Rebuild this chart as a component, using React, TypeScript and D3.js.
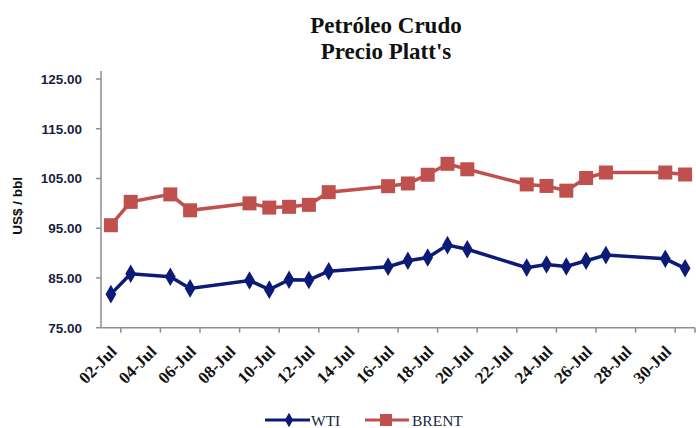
import React from "react";
import * as d3 from "d3";

const dates = ["2012-07-02","2012-07-03","2012-07-05","2012-07-06","2012-07-09","2012-07-10","2012-07-11","2012-07-12","2012-07-13","2012-07-16","2012-07-17","2012-07-18","2012-07-19","2012-07-20","2012-07-23","2012-07-24","2012-07-25","2012-07-26","2012-07-27","2012-07-30","2012-07-31"];
const wti = [81.75, 85.85, 85.25, 82.9, 84.5, 82.65, 84.65, 84.6, 86.35, 87.27, 88.45, 89.1, 91.6, 90.76, 87.08, 87.7, 87.3, 88.47, 89.6, 88.85, 86.94];
const brent = [95.6, 100.3, 101.8, 98.6, 100.0, 99.15, 99.3, 99.7, 102.25, 103.45, 104.0, 105.75, 107.95, 106.85, 103.8, 103.5, 102.55, 105.1, 106.2, 106.2, 105.8];
const yTicks = [75, 85, 95, 105, 115, 125];
const xLabelDays = ["2012-07-02","2012-07-04","2012-07-06","2012-07-08","2012-07-10","2012-07-12","2012-07-14","2012-07-16","2012-07-18","2012-07-20","2012-07-22","2012-07-24","2012-07-26","2012-07-28","2012-07-30"];
const titleLines = ["Petróleo Crudo", "Precio Platt's"];
const yTitle = "US$ / bbl";
const seriesNames = ["WTI", "BRENT"];

const W = 696, H = 428;
const DAY = 86400000;
const parse = (s: string) => new Date(s + "T00:00:00Z");

export default function App() {
  const x = d3.scaleUtc().domain([parse("2012-07-02"), parse("2012-08-01")]).range([101, 695]);
  const y = d3.scaleLinear().domain([75, 125]).range([327.7, 79]);
  const mid = (s: string) => x(new Date(parse(s).getTime() + DAY / 2));
  const tickDates = d3.utcDay.every(2)!.range(parse("2012-07-02"), new Date(parse("2012-08-01").getTime() + 1));
  const line = d3.line<number>().x((_, i) => mid(dates[i])).y((d) => y(d));
  const wtiColor = "#0c1a78";
  const brentColor = "#c0504d";
  const axisColor = "#8e8e8e";
  const diamond = d3.symbol().type(d3.symbolDiamond).size(100)();
  const legendDiamond = d3.symbol().type(d3.symbolDiamond).size(60)();
  return (
    <svg width={W} height={H} style={{ position: "absolute", left: 0, top: 0, background: "#fff" }}>
      <text x={386} textAnchor="middle" fontFamily="'Liberation Serif', serif" fontWeight="bold" fontSize={23} fill="#111">
        <tspan x={386} y={33}>{titleLines[0]}</tspan>
        <tspan x={386} y={59}>{titleLines[1]}</tspan>
      </text>
      <text transform={`translate(22,${y(99.5)}) rotate(-90)`} textAnchor="middle" fontFamily="'Liberation Sans', sans-serif" fontWeight="bold" fontSize={13.5} fill="#111">{yTitle}</text>
      {/* y axis */}
      <line x1={x.range()[0]} x2={x.range()[0]} y1={y(75)} y2={y(126.6)} stroke={axisColor} strokeWidth={1.5} />
      {yTicks.map((t) => (
        <g key={t}>
          <line x1={x.range()[0] - 5} x2={x.range()[0]} y1={y(t)} y2={y(t)} stroke={axisColor} strokeWidth={1.5} />
          <text x={x.range()[0] - 19} y={y(t) + 5} textAnchor="end" fontFamily="'Liberation Sans', sans-serif" fontWeight="bold" fontSize={13.5} fill="#1a1f40">{d3.format(".2f")(t)}</text>
        </g>
      ))}
      {/* x axis */}
      <line x1={x.range()[0]} x2={x.range()[1]} y1={y(75)} y2={y(75)} stroke={axisColor} strokeWidth={1.5} />
      {tickDates.map((d, i) => (
        <line key={i} x1={x(d)} x2={x(d)} y1={y(75)} y2={y(75) + 5} stroke={axisColor} strokeWidth={1.5} />
      ))}
      {xLabelDays.map((s) => (
        <text key={s} transform={`translate(${mid(s) + 7},${y(75) + 25}) rotate(-45)`} textAnchor="end" fontFamily="'Liberation Serif', serif" fontWeight="bold" fontSize={17} fill="#111">{d3.utcFormat("%d-%b")(parse(s))}</text>
      ))}
      {/* series */}
      <path d={line(brent) || ""} fill="none" stroke={brentColor} strokeWidth={3.5} />
      {brent.map((v, i) => (
        <rect key={i} x={mid(dates[i]) - 7} y={y(v) - 7} width={14} height={14} fill={brentColor} />
      ))}
      <path d={line(wti) || ""} fill="none" stroke={wtiColor} strokeWidth={3.5} />
      {wti.map((v, i) => (
        <path key={i} d={diamond || ""} transform={`translate(${mid(dates[i])},${y(v)})`} fill={wtiColor} />
      ))}
      {/* legend */}
      <g fontFamily="'Liberation Serif', serif" fontSize={15.5} fill="#1a1f40">
        <line x1={265} x2={310} y1={420} y2={420} stroke={wtiColor} strokeWidth={3} />
        <path d={legendDiamond || ""} transform="translate(289,420)" fill={wtiColor} />
        <text x={311} y={425.5}>{seriesNames[0]}</text>
        <line x1={365} x2={409} y1={420} y2={420} stroke={brentColor} strokeWidth={3} />
        <rect x={380} y={414} width={12} height={12} fill={brentColor} />
        <text x={412} y={425.5}>{seriesNames[1]}</text>
      </g>
    </svg>
  );
}
